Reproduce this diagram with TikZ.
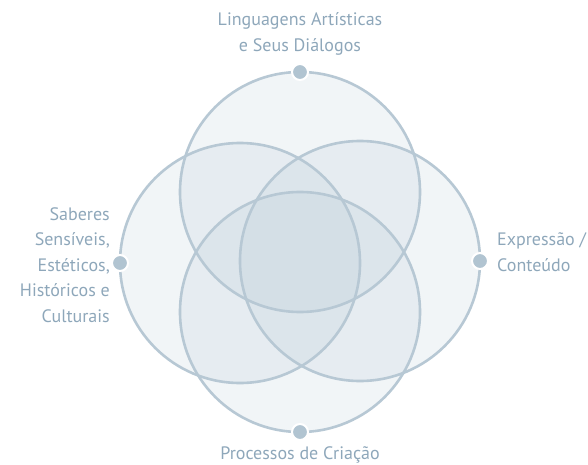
\documentclass[tikz,border=0pt]{standalone}
\usepackage{fontspec}
\setmainfont{PT Sans}
\definecolor{ringline}{HTML}{B7C8D4}
\definecolor{ringfill}{HTML}{A9BFCE}
\definecolor{labeltext}{HTML}{8EA7BA}
\definecolor{dotfill}{HTML}{B1C4D1}
\begin{document}
\begin{tikzpicture}[x=1pt, y=-1pt,
	ring/.style={draw=ringline, line width=2.6pt},
	shade/.style={fill=ringfill, opacity=0.16},
	dot/.style={circle, fill=dotfill, draw=white, line width=2pt, minimum size=16pt, inner sep=0pt},
	lbl/.style={text=labeltext, font=\fontsize{18}{25.5}\selectfont, inner sep=0pt}]
	\useasboundingbox (0,0) rectangle (588,465);
	% circle centres
	\coordinate (ctop) at (300,192);
	\coordinate (cbot) at (300,312);
	\coordinate (cleft) at (240,263);
	\coordinate (cright) at (360,261);
	% fills
	\fill[shade] (ctop) circle (120pt);
	\fill[shade] (cbot) circle (120pt);
	\fill[shade] (cleft) circle (120pt);
	\fill[shade] (cright) circle (120pt);
	% outlines
	\draw[ring] (ctop) circle (120pt);
	\draw[ring] (cbot) circle (120pt);
	\draw[ring] (cleft) circle (120pt);
	\draw[ring] (cright) circle (120pt);
	% markers
	\node[dot] (dtop) at (300,72) {};
	\node[dot] (dbot) at (300,432) {};
	\node[dot] (dleft) at (120,263) {};
	\node[dot] (dright) at (480,261) {};
	% labels
	\node[lbl, align=center] (ltop) at (300,34) {Linguagens Artísticas\\e Seus Diálogos};
	\node[lbl] (lbot) at (300,455) {Processos de Criação};
	\node[lbl, align=right, anchor=east] (lleft) at (110,265) {Saberes\\Sensíveis,\\Estéticos,\\Históricos e\\Culturais};
	\node[lbl, align=left, anchor=west] (lright) at (497,252) {Expressão /\\Conteúdo};
\end{tikzpicture}
\end{document}
